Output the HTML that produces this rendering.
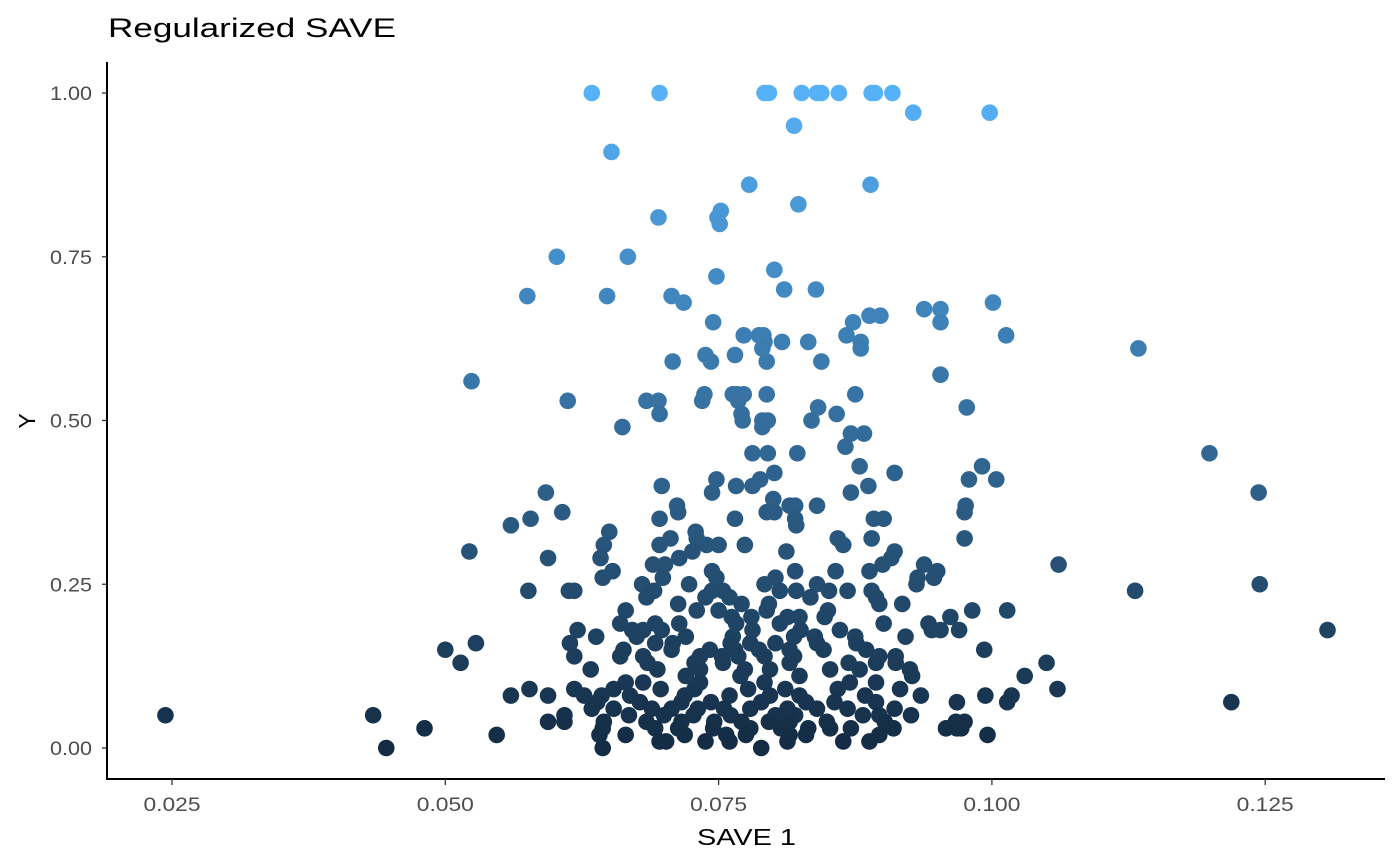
<!DOCTYPE html>
<html><head><meta charset="utf-8"><style>
html,body{margin:0;padding:0;background:#fff;}
svg{display:block;font-family:"Liberation Sans",Arial,sans-serif;}
</style></head><body>
<svg id="chart" width="1400" height="865" viewBox="0 0 1400 865">
<rect x="0" y="0" width="1400" height="865" fill="#fff"/>
<text x="108" y="37" font-size="27" textLength="288" lengthAdjust="spacingAndGlyphs" fill="#000">Regularized SAVE</text>
<g id="points"></g>
<g id="axes"></g>
<text x="697" y="845" font-size="23" textLength="99" lengthAdjust="spacingAndGlyphs" fill="#000">SAVE 1</text>
<text transform="translate(35,421) rotate(-90)" font-size="23" text-anchor="middle" fill="#000">Y</text>
</svg>
<script>
const xTicks = [0.025, 0.050, 0.075, 0.100, 0.125];
const xTickLabels = ["0.025", "0.050", "0.075", "0.100", "0.125"];
const yTicks = [0, 0.25, 0.5, 0.75, 1];
const yTickLabels = ["0.00", "0.25", "0.50", "0.75", "1.00"];
const yLevels = [1.00,0.97,0.95,0.91,0.86,0.83,0.82,0.81,0.80,0.75,0.73,0.72,0.70,0.69,0.68,0.67,0.66,0.65,0.63,0.62,0.61,0.60,0.59,0.57,0.56,0.54,0.53,0.52,0.51,0.50,0.49,0.48,0.46,0.45,0.43,0.42,0.41,0.40,0.39,0.38,0.37,0.36,0.35,0.34,0.33,0.32,0.31,0.30,0.29,0.28,0.27,0.26,0.25,0.24,0.23,0.22,0.21,0.20,0.19,0.18,0.17,0.16,0.15,0.14,0.13,0.12,0.11,0.10,0.09,0.08,0.07,0.06,0.05,0.04,0.03,0.02,0.01,0.00];
const xByLevel = [
[.0634,.0696,.0792,.0796,.0826,.0840,.0844,.0860,.0890,.0893,.0909],
[.0928,.0998],[.0819],[.0652],[.0778,.0889],[.0823],[.0752],[.0695,.0749],[.0751],
[.0602,.0667],[.0801],[.0748],[.0810,.0839],[.0575,.0648,.0707],[.0718,.1001],
[.0938,.0953],[.0888,.0898],[.0745,.0873,.0953],[.0773,.0787,.0791,.0867,.1013],
[.0792,.0808,.0832,.0880],[.0790,.0880,.1134],[.0738,.0765],[.0708,.0743,.0794,.0844],
[.0953],[.0524],[.0737,.0763,.0767,.0773,.0794,.0875],[.0612,.0684,.0695,.0735,.0768],
[.0841,.0977],[.0696,.0771,.0858],[.0772,.0790,.0795,.0835],[.0662,.0790],[.0871,.0883],
[.0866],[.0781,.0795,.0822,.1199],[.0879,.0991],[.0801,.0911],[.0748,.0788,.0979,.1004],
[.0698,.0766,.0781,.0887],[.0592,.0744,.0871,.1244],[.0800],[.0712,.0815,.0820,.0840,.0976],
[.0607,.0713,.0794,.0801,.0975],[.0578,.0696,.0765,.0820,.0892,.0901],[.0560,.0821],[.0650,.0729],
[.0706,.0730,.0859,.0890,.0975],[.0645,.0696,.0750,.0774,.0864,.0739],[.0522,.0726,.0812,.0911],
[.0594,.0642,.0714,.0908],[.0690,.0701,.0900,.0938,.1061],[.0653,.0744,.0820,.0857,.0888,.0950],
[.0644,.0699,.0748,.0802,.0932,.0947],[.0680,.0723,.0792,.0840,.0931,.1245],
[.0576,.0613,.0618,.0691,.0744,.0754,.0806,.0821,.0851,.0868,.0890,.1131],
[.0684,.0738,.0760,.0834,.0894],[.0713,.0771,.0796,.0897,.0918],
[.0665,.0730,.0750,.0794,.0850,.0982,.1014],[.0762,.0780,.0813,.0824,.0847,.0962],
[.0660,.0692,.0714,.0766,.0806,.0901,.0942],
[.0621,.0671,.0681,.0698,.0781,.0825,.0861,.0945,.0953,.0970,.1307],
[.0638,.0675,.0720,.0763,.0819,.0838,.0875,.0921],
[.0528,.0614,.0692,.0708,.0761,.0779,.0802,.0840,.0876],
[.0500,.0663,.0707,.0742,.0765,.0787,.0815,.0846,.0885,.0993],
[.0618,.0660,.0681,.0733,.0753,.0768,.0792,.0819,.0897,.0912],
[.0514,.0685,.0728,.0754,.0815,.0869,.0894,.0912,.1050],
[.0633,.0694,.0733,.0774,.0797,.0852,.0879,.0925],
[.0720,.0770,.0824,.0927,.1030],[.0665,.0681,.0733,.0792,.0870,.0894],
[.0577,.0618,.0654,.0697,.0728,.0777,.0811,.0859,.0916,.1060],
[.0560,.0594,.0627,.0643,.0669,.0719,.0760,.0797,.0824,.0884,.0935,.0994,.1018],
[.0639,.0678,.0716,.0743,.0789,.0830,.0856,.0894,.0968,.1014,.1219],
[.0634,.0654,.0689,.0707,.0731,.0755,.0779,.0813,.0840,.0868,.0911],
[.0244,.0434,.0609,.0668,.0700,.0727,.0761,.0802,.0820,.0882,.0897,.0926],
[.0594,.0609,.0645,.0684,.0716,.0746,.0771,.0796,.0815,.0849,.0902,.0967,.0975],
[.0481,.0644,.0692,.0713,.0745,.0779,.0807,.0832,.0852,.0871,.0910,.0958,.0968,.0972],
[.0547,.0641,.0665,.0719,.0757,.0775,.0815,.0830,.0897,.0996],
[.0696,.0702,.0738,.0760,.0813,.0864,.0888],
[.0446,.0644,.0789]
];

const NS = "http://www.w3.org/2000/svg";
function xScale(v){ return 172 + (v - 0.025) * 10932; }
function yScale(v){ return 748 - v * 655; }
function colorFor(v){
  const a=[19,43,67], b=[86,177,247];
  const c=a.map((s,i)=>Math.round(s+(b[i]-s)*v));
  return "rgb("+c.join(",")+")";
}
const pts = document.getElementById("points");
yLevels.forEach((yv, i) => {
  xByLevel[i].forEach(xv => {
    const c = document.createElementNS(NS, "circle");
    c.setAttribute("cx", xScale(xv));
    c.setAttribute("cy", yScale(yv));
    c.setAttribute("r", 8.3);
    c.setAttribute("fill", colorFor(yv));
    
    
    pts.appendChild(c);
  });
});
const axes = document.getElementById("axes");
function line(x1,y1,x2,y2,name){
  const l=document.createElementNS(NS,"line");
  l.setAttribute("x1",x1);l.setAttribute("y1",y1);l.setAttribute("x2",x2);l.setAttribute("y2",y2);
  l.setAttribute("stroke","#000");l.setAttribute("stroke-width",name.indexOf("tick")>=0?1.3:2);
  if(name.indexOf("tick")>=0) l.setAttribute("stroke","#333");
  
  
  axes.appendChild(l);
}
line(107,62,107,780,"y-axis-line");
line(106,779,1385,779,"x-axis-line");
function txt(x,y,s,anchor,name,len){
  const t=document.createElementNS(NS,"text");
  t.setAttribute("x",x);t.setAttribute("y",y);t.setAttribute("font-size","19");
  t.setAttribute("fill","#4D4D4D");t.setAttribute("text-anchor",anchor);
  t.setAttribute("textLength",len);t.setAttribute("lengthAdjust","spacingAndGlyphs");
  t.textContent=s;
  
  
  axes.appendChild(t);
}
xTicks.forEach((v,i)=>{
  const x=xScale(v);
  line(x,779,x,785,"x-tick");
  txt(x,811,xTickLabels[i],"middle","x-tick-label",57);
});
yTicks.forEach((v,i)=>{
  const y=yScale(v);
  line(102,y,107,y,"y-tick");
  txt(92,y+7,yTickLabels[i],"end","y-tick-label",42);
});
</script>
</body></html>
